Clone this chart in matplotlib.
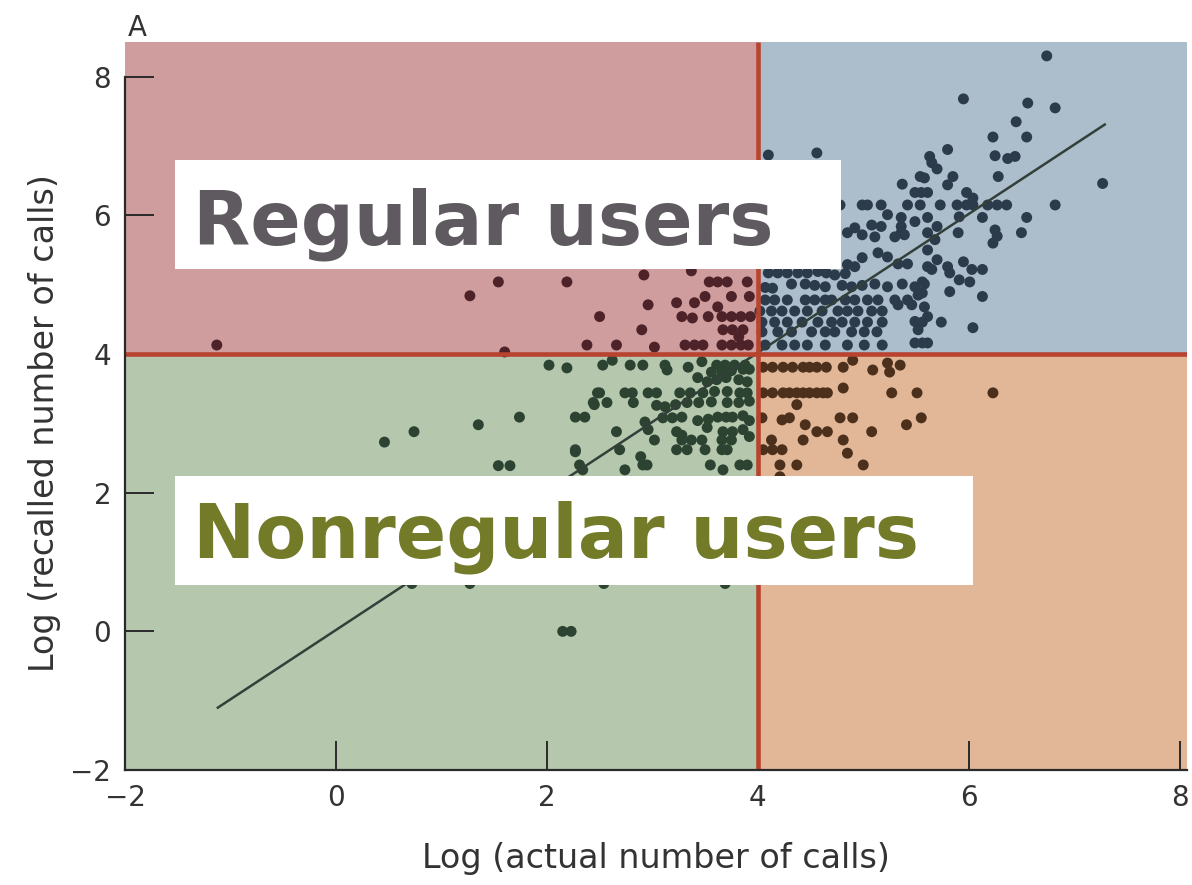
"""
Recalled vs actual number of calls, split into regular / nonregular users
"""

import matplotlib
matplotlib.use("Agg")
import matplotlib.pyplot as plt
from matplotlib.patches import Rectangle
import numpy as np

# log(actual), log(recalled) pairs, grouped by quadrant (cut at 4, 4)
pts_top_left = [
    (-1.13, 4.13), (1.27, 4.84), (1.60, 4.03), (1.54, 5.04), (2.19, 5.04), (2.92, 5.14),
    (3.37, 5.20), (3.54, 5.04), (3.62, 5.04), (3.71, 5.04), (3.90, 5.04), (2.96, 4.71),
    (3.23, 4.74), (3.40, 4.74), (3.50, 4.83), (3.75, 4.83), (3.92, 4.83), (2.50, 4.54),
    (3.28, 4.54), (3.38, 4.52), (3.53, 4.54), (3.66, 4.54), (3.75, 4.54), (3.84, 4.54),
    (3.93, 4.54), (2.90, 4.35), (3.67, 4.35), (3.76, 4.35), (3.86, 4.35), (2.38, 4.13),
    (2.66, 4.13), (3.02, 4.10), (3.31, 4.13), (3.40, 4.13), (3.48, 4.13), (3.66, 4.13),
    (3.75, 4.13), (3.84, 4.13), (3.91, 4.13), (3.62, 4.68), (3.82, 4.25),
]

pts_bottom_left = [
    (0.46, 2.73), (0.74, 2.88), (1.35, 2.98), (1.74, 3.09), (1.54, 2.39), (1.65, 2.39),
    (2.02, 3.84), (2.19, 3.80), (2.27, 3.09), (2.36, 3.09), (2.27, 2.59), (2.45, 3.27),
    (2.48, 3.44), (2.53, 3.84), (2.62, 3.91), (2.79, 3.84), (2.91, 3.84), (3.12, 3.84),
    (3.14, 3.77), (3.34, 3.81), (3.47, 3.89), (3.43, 3.66), (3.52, 3.60), (3.61, 3.84),
    (3.69, 3.84), (3.78, 3.84), (3.88, 3.84), (3.56, 3.74), (3.66, 3.74), (3.75, 3.76),
    (3.86, 3.78), (3.92, 3.78), (3.61, 3.63), (3.70, 3.66), (3.82, 3.63), (3.90, 3.60),
    (2.50, 3.44), (2.74, 3.44), (2.81, 3.44), (2.96, 3.44), (3.04, 3.44), (3.26, 3.44),
    (3.36, 3.44), (3.48, 3.44), (3.59, 3.46), (3.71, 3.46), (3.83, 3.44), (3.90, 3.44),
    (2.44, 3.30), (2.57, 3.30), (2.82, 3.30), (3.04, 3.26), (3.12, 3.24), (3.22, 3.27),
    (3.33, 3.30), (3.44, 3.30), (3.56, 3.31), (3.71, 3.30), (3.82, 3.30), (3.92, 3.32),
    (3.10, 3.08), (3.19, 3.08), (3.28, 3.09), (3.43, 3.04), (3.53, 3.06), (3.62, 3.09),
    (3.70, 3.09), (3.76, 3.09), (3.86, 3.11), (3.92, 3.04), (2.93, 3.02), (2.96, 2.91),
    (3.52, 2.94), (3.23, 2.88), (3.28, 2.83), (3.67, 2.88), (3.76, 2.88), (3.86, 2.91),
    (2.66, 2.88), (3.02, 2.76), (3.28, 2.76), (3.37, 2.76), (3.47, 2.76), (3.66, 2.76),
    (3.75, 2.76), (3.92, 2.81), (2.27, 2.62), (2.69, 2.62), (3.23, 2.62), (3.33, 2.62),
    (3.50, 2.62), (3.66, 2.62), (3.71, 2.62), (2.89, 2.52), (2.91, 2.40), (2.95, 2.40),
    (2.31, 2.40), (2.34, 2.33), (3.55, 2.40), (3.83, 2.40), (3.90, 2.40), (2.74, 2.33),
    (3.67, 2.33), (0.72, 0.69), (1.27, 0.69), (2.54, 0.69), (3.69, 0.69),
    (2.15, 0.00), (2.23, 0.00),
]

pts_top_right = [
    (6.74, 8.30), (5.95, 7.68), (6.56, 7.62), (6.82, 7.55), (6.45, 7.35), (6.23, 7.13),
    (6.55, 7.13), (4.10, 6.87), (4.56, 6.90), (5.80, 6.95), (5.63, 6.85), (5.65, 6.76),
    (5.70, 6.67), (6.25, 6.86), (6.37, 6.82), (6.44, 6.85), (6.28, 6.56), (7.27, 6.46),
    (5.37, 6.45), (5.54, 6.56), (5.58, 6.54), (5.80, 6.44), (5.85, 6.56), (5.49, 6.33),
    (5.55, 6.33), (5.61, 6.33), (5.98, 6.33), (6.04, 6.25), (5.42, 6.15), (5.54, 6.15),
    (5.73, 6.15), (5.89, 6.15), (5.98, 6.15), (6.04, 6.15), (6.18, 6.15), (6.27, 6.15),
    (6.36, 6.15), (6.82, 6.15), (4.78, 6.15), (4.99, 6.15), (5.04, 6.15), (5.17, 6.15),
    (5.23, 6.01), (5.36, 5.97), (5.36, 5.84), (5.36, 5.75), (5.49, 5.91), (5.61, 5.97),
    (5.70, 5.84), (5.91, 5.98), (6.13, 5.97), (6.55, 5.97), (6.25, 5.79), (6.23, 5.60),
    (6.27, 5.70), (6.50, 5.75), (5.90, 5.75), (4.92, 5.82), (4.85, 5.75), (5.08, 5.86),
    (5.17, 5.84), (5.61, 5.50), (5.70, 5.36), (5.65, 5.22), (5.95, 5.33), (6.03, 5.22),
    (6.13, 5.22), (5.82, 5.17), (5.91, 5.07), (6.01, 5.04), (5.82, 4.90), (6.13, 4.83),
    (5.56, 5.04), (5.56, 4.88), (5.33, 4.71), (5.58, 4.68), (5.61, 4.54), (5.49, 4.47),
    (5.52, 4.35), (5.74, 4.46), (6.04, 4.38), (5.49, 4.16), (5.56, 4.16),
    (4.99, 5.72), (5.11, 5.69), (5.30, 5.69), (5.39, 5.72), (5.61, 5.75), (5.68, 5.65),
    (4.99, 5.39), (5.14, 5.46), (5.23, 5.40), (4.85, 5.29), (4.92, 5.26), (5.33, 5.30),
    (5.42, 5.30), (5.61, 5.26), (5.80, 5.26),
    (4.10, 5.17), (4.19, 5.17), (4.28, 5.17), (4.38, 5.17), (4.47, 5.17), (4.57, 5.19),
    (4.65, 5.17), (4.73, 5.14), (4.83, 5.16), (4.07, 4.96), (4.14, 4.95), (4.32, 5.01),
    (4.45, 5.01), (4.54, 4.99), (4.64, 4.97), (4.80, 4.99), (4.89, 4.97), (4.99, 4.99),
    (5.11, 5.01), (5.23, 4.97), (5.37, 5.01), (5.49, 4.97), (5.58, 5.01), (5.52, 4.85),
    (4.07, 4.78), (4.16, 4.78), (4.28, 4.78), (4.45, 4.78), (4.54, 4.78), (4.64, 4.78),
    (4.70, 4.78), (4.83, 4.78), (4.92, 4.78), (5.04, 4.78), (5.14, 4.78), (5.30, 4.78),
    (5.42, 4.78), (4.02, 4.62), (4.13, 4.62), (4.23, 4.62), (4.35, 4.62), (4.47, 4.62),
    (4.61, 4.62), (4.76, 4.62), (4.85, 4.62), (4.95, 4.62), (5.08, 4.62), (5.18, 4.62),
    (5.46, 4.71), (4.04, 4.46), (4.16, 4.46), (4.28, 4.46), (4.42, 4.46), (4.57, 4.46),
    (4.70, 4.46), (4.80, 4.46), (4.92, 4.46), (5.04, 4.46), (5.18, 4.46), (5.56, 4.46),
    (4.04, 4.32), (4.19, 4.32), (4.32, 4.32), (4.51, 4.32), (4.64, 4.32), (4.73, 4.32),
    (4.89, 4.32), (5.01, 4.32), (5.13, 4.32), (4.07, 4.13), (4.23, 4.13), (4.35, 4.13),
    (4.47, 4.13), (4.64, 4.13), (4.85, 4.13), (5.01, 4.13), (5.18, 4.13), (5.61, 4.16),
]

pts_bottom_right = [
    (4.05, 3.81), (4.14, 3.81), (4.24, 3.81), (4.33, 3.81), (4.43, 3.81), (4.49, 3.81),
    (4.56, 3.81), (4.65, 3.81), (4.81, 3.81), (4.90, 3.91), (5.09, 3.77), (5.23, 3.87),
    (5.25, 3.74), (5.35, 3.84), (4.05, 3.44), (4.14, 3.44), (4.24, 3.44), (4.30, 3.44),
    (4.37, 3.44), (4.43, 3.44), (4.49, 3.44), (4.56, 3.44), (4.62, 3.44), (4.66, 3.44),
    (4.81, 3.51), (5.27, 3.44), (5.51, 3.44), (6.23, 3.44), (4.37, 3.27), (4.04, 3.08),
    (4.23, 3.05), (4.30, 3.08), (4.78, 3.08), (4.90, 3.08), (5.55, 3.08), (5.41, 2.98),
    (4.45, 2.98), (4.56, 2.88), (4.66, 2.88), (5.08, 2.88), (4.13, 2.76), (4.43, 2.76),
    (4.81, 2.76), (4.05, 2.62), (4.14, 2.62), (4.23, 2.62), (4.85, 2.57), (4.21, 2.40),
    (4.37, 2.40), (5.00, 2.40), (4.21, 2.23),
]

# fitted line end points
fit_x = [-1.12, 7.29]
fit_y = [-1.10, 7.31]

cut = 4
x_ticks = [-2, 0, 2, 4, 6, 8]
y_ticks = [-2, 0, 2, 4, 6, 8]

XMAX, YMAX = 8.07, 8.5

fig = plt.figure(figsize=(11.92, 8.85), dpi=100)
ax = fig.add_axes([0.1049, 0.1299, 0.8909, 0.8226])
ax.set_xlim(-2, XMAX)
ax.set_ylim(-2, YMAX)

# quadrant backgrounds
quads = [
    ((-2, cut), cut + 2, YMAX - cut, "#cf9d9e"),
    ((cut, cut), XMAX - cut, YMAX - cut, "#acbdcb"),
    ((-2, -2), cut + 2, cut + 2, "#b5c7ad"),
    ((cut, -2), XMAX - cut, cut + 2, "#e1b798"),
]
for xy, w, h, c in quads:
    ax.add_patch(Rectangle(xy, w, h, facecolor=c, edgecolor="none", zorder=0))

groups = [
    (pts_top_left, "#4d2228"),
    (pts_top_right, "#2b3b4b"),
    (pts_bottom_left, "#2d4332"),
    (pts_bottom_right, "#4d301c"),
]
for pts, c in groups:
    arr = np.array(pts)
    ax.scatter(arr[:, 0], arr[:, 1], s=62, color=c, edgecolors="none", zorder=2)

ax.plot(fit_x, fit_y, color="#33403a", lw=1.8, zorder=3)

# quadrant dividers
ax.plot([cut, cut], [-2, YMAX], color="#b8432e", lw=3.3, zorder=4, solid_capstyle="butt")
ax.plot([-2, XMAX], [cut, cut], color="#b8432e", lw=3.3, zorder=4, solid_capstyle="butt")

# labelled boxes
ax.add_patch(Rectangle((-1.53, 5.22), 6.32, 1.58, facecolor="white", edgecolor="none", zorder=5))
ax.add_patch(Rectangle((-1.53, 0.67), 7.57, 1.57, facecolor="white", edgecolor="none", zorder=5))
ax.text(-1.36, 5.58, "Regular users", fontsize=53.5, fontweight="bold",
        family="DejaVu Sans", color="#5f5a60", va="baseline", zorder=6)
ax.text(-1.36, 1.06, "Nonregular users", fontsize=53.5, fontweight="bold",
        family="DejaVu Sans", color="#737a28", va="baseline", zorder=6)

# axes styling
for side in ["top", "right"]:
    ax.spines[side].set_visible(False)
ax.spines["left"].set_bounds(-2, 8)
for side in ["left", "bottom"]:
    ax.spines[side].set_color("#2a2a2a")
    ax.spines[side].set_linewidth(1.6)
    ax.spines[side].set_zorder(7)

ax.set_xticks(x_ticks)
ax.set_yticks(y_ticks)
ax.set_xticklabels(["\u22122" if t < 0 else str(t) for t in x_ticks])
ax.set_yticklabels(["\u22122" if t < 0 else str(t) for t in y_ticks])
ax.tick_params(direction="in", length=21, width=1.4, color="#2a2a2a",
               labelsize=20, labelcolor="#333333", pad=10)

ax.set_xlabel("Log (actual number of calls)", fontsize=24, color="#333333", labelpad=22)
ax.set_ylabel("Log (recalled number of calls)", fontsize=24, color="#333333")
ax.yaxis.set_label_coords(-0.06, 0.4766)

fig.text(0.115, 0.968, "A", fontsize=20, color="#333333", ha="center", va="center")

fig.savefig("out.png", dpi=100)
